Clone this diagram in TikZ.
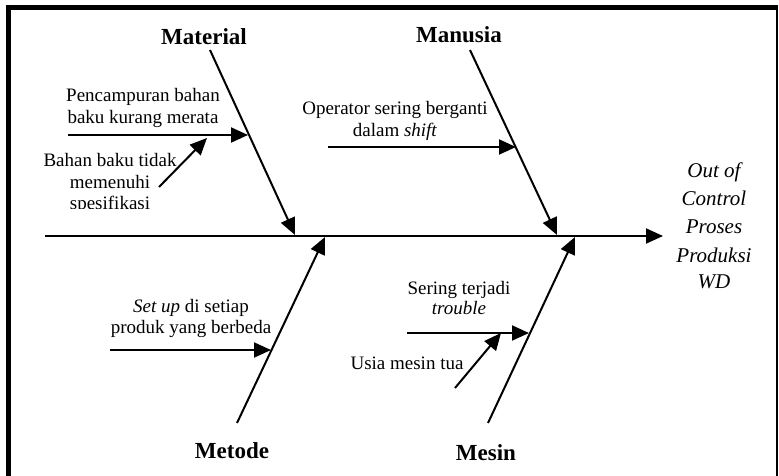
\documentclass[tikz,border=0pt]{standalone}
\usepackage{fontspec}
\setmainfont{Liberation Serif}
\usetikzlibrary{arrows.meta}
\begin{document}
\begin{tikzpicture}[x=1pt,y=-1pt,
  arr/.style={line width=2pt,-{Triangle[length=17pt,width=15pt]}},
  txt/.style={font=\fontsize{19}{21}\selectfont, inner sep=0pt, anchor=base},
  cat/.style={font=\fontsize{23}{26}\selectfont\bfseries, inner sep=0pt, anchor=base},
  res/.style={font=\fontsize{21}{25}\selectfont\itshape, inner sep=0pt, anchor=base}]
\useasboundingbox (0,0) rectangle (779,476);
% frame
\draw[line width=5pt] (8,476) -- (8,7.5) -- (778,7.5);
\draw[line width=2pt] (777,7.5) -- (777,476);
% spine
\coordinate (spS) at (45,236);
\coordinate (spE) at (663,236);
\draw[arr] (spS) -- (spE);
% branches
\coordinate (maA) at (210,50);  \coordinate (maB) at (295,235);
\coordinate (muA) at (470,50);  \coordinate (muB) at (557,235);
\coordinate (meA) at (237,423); \coordinate (meB) at (325,237);
\coordinate (msA) at (488,423); \coordinate (msB) at (575,237);
\draw[arr] (maA) -- (maB);
\draw[arr] (muA) -- (muB);
\draw[arr] (meA) -- (meB);
\draw[arr] (msA) -- (msB);
% sub-causes
\coordinate (p1A) at (68,135);  \coordinate (p1B) at (248,135);
\coordinate (p2A) at (159,187); \coordinate (p2B) at (207,138);
\coordinate (o1A) at (328,147); \coordinate (o1B) at (516,147);
\coordinate (s1A) at (110,350); \coordinate (s1B) at (271,350);
\coordinate (t1A) at (407,333); \coordinate (t1B) at (529,333);
\coordinate (u1A) at (455,388); \coordinate (u1B) at (501,333);
\draw[arr] (p1A) -- (p1B);
\draw[arr] (p2A) -- (p2B);
\draw[arr] (o1A) -- (o1B);
\draw[arr] (s1A) -- (s1B);
\draw[arr] (t1A) -- (t1B);
\draw[arr] (u1A) -- (u1B);
% category labels
\node[cat] (lMat) at (204,45) {Material};
\node[cat] (lMan) at (459,43) {Manusia};
\node[cat] (lMet) at (232,458) {Metode};
\node[cat] (lMes) at (486,460) {Mesin};
% cause texts
\node[txt] (tp1) at (143,102) {Pencampuran bahan};
\node[txt] (tp2) at (143,124) {baku kurang merata};
\node[txt] (tb1) at (110,167) {Bahan baku tidak};
\node[txt] (tb2) at (110,188) {memenuhi};
\begin{scope}
\clip (0,195) rectangle (300,208);
\node[txt] (tb3) at (110,209) {spesifikasi};
\end{scope}
\node[txt] (to1) at (395,115) {Operator sering berganti};
\node[txt] (to2) at (395,137) {dalam \textit{shift}};
\node[txt] (ts1) at (191,312) {\textit{Set up} di setiap};
\node[txt] (ts2) at (191,333) {produk yang berbeda};
\node[txt] (tt1) at (459,294) {Sering terjadi};
\node[txt] (tt2) at (459,314) {\textit{trouble}};
\node[txt] (tu1) at (407,369) {Usia mesin tua};
% result
\node[res] (r1) at (714,178) {Out of};
\node[res] (r2) at (714,205) {Control};
\node[res] (r3) at (714,233) {Proses};
\node[res] (r4) at (714,262) {Produksi};
\node[res] (r5) at (714,288) {WD};
\end{tikzpicture}
\end{document}
